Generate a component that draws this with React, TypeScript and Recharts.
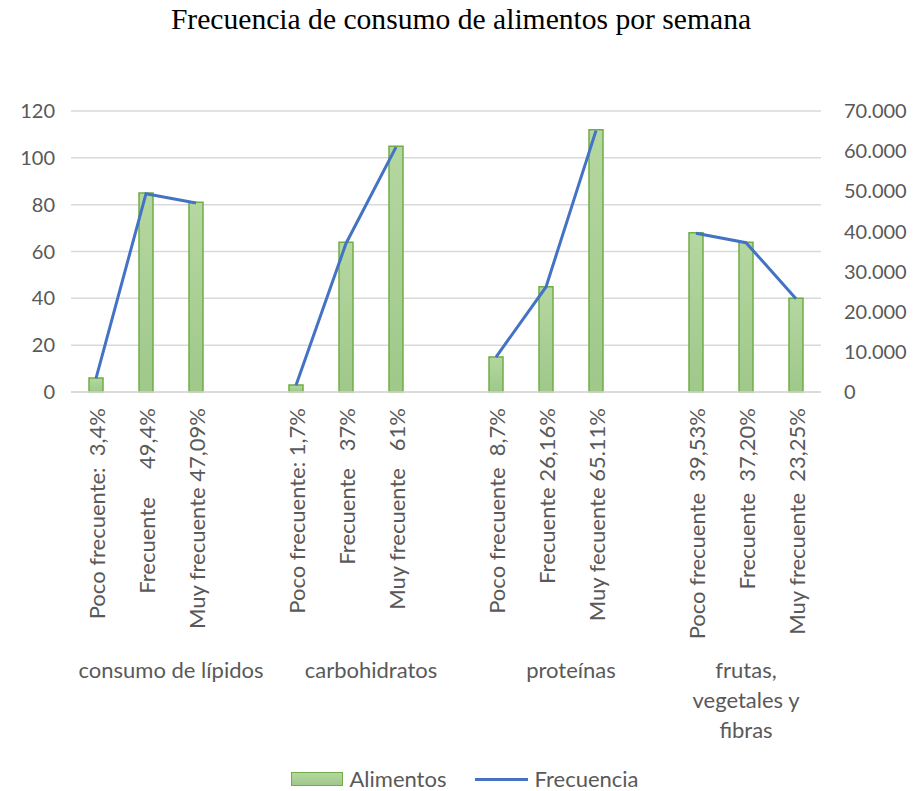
import { ComposedChart, Bar, Line, XAxis, YAxis, CartesianGrid, Legend } from "recharts";

// categorías del eje (las vacías separan los grupos)
const categorias = [
  "Poco frecuente:  3,4%",
  "Frecuente     49,4%",
  "Muy frecuente 47,09%",
  "",
  "Poco frecuente: 1,7%",
  "Frecuente   37%",
  "Muy frecuente   61%",
  "",
  "Poco frecuente  8,7%",
  "Frecuente 26,16%",
  "Muy fecuente 65.11%",
  "",
  "Poco frecuente  39,53%",
  "Frecuente  37,20%",
  "Muy frecuente  23,25%",
];
const grupoDeCategoria = [0, 0, 0, 0, 1, 1, 1, 1, 2, 2, 2, 2, 3, 3, 3];
const grupos = ["consumo de lípidos", "carbohidratos", "proteínas", "frutas, vegetales y fibras"];

const alimentos = [6, 85, 81, null, 3, 64, 105, null, 15, 45, 112, null, 68, 64, 40];
const frecuencia = [3400, 49400, 47090, null, 1700, 37000, 61000, null, 8700, 26160, 65110, null, 39530, 37200, 23250];

const ticksIzq = [0, 20, 40, 60, 80, 100, 120];
const ticksDer = [0, 10000, 20000, 30000, 40000, 50000, 60000, 70000];

const data = categorias.map((categoria, i) => ({
  categoria,
  grupo: grupoDeCategoria[i],
  alimentos: alimentos[i],
  frecuencia: frecuencia[i],
}));

const W = 914;
const H = 791;
const LEFT = 71;
const RIGHT_W = 93;
const SLOT = (W - LEFT - RIGHT_W) / categorias.length;

const FONT = "Lato, 'Open Sans', sans-serif";
const GRIS = "#595959";
const VERDE = "#70ad47";
const AZUL = "#4472c4";

const miles = (v: number) => String(v).replace(/\B(?=(\d{3})+(?!\d))/g, ".");

// corta el texto en líneas según un ancho aproximado
function partir(texto: string, ancho: number) {
  const palabras = texto.split(" ");
  const lineas: string[] = [];
  let actual = "";
  palabras.forEach((p) => {
    const prueba = actual ? actual + " " + p : p;
    if (prueba.length * 10 > ancho && actual) {
      lineas.push(actual);
      actual = p;
    } else {
      actual = prueba;
    }
  });
  if (actual) lineas.push(actual);
  return lineas;
}

const CategoriaTick = (props: any) => {
  const { x, y, payload } = props;
  const index = payload.index;
  const g = grupoDeCategoria[index];
  const esPrimero = index === 0 || grupoDeCategoria[index - 1] !== g;
  let grupoLabel = null;
  if (esPrimero) {
    const n = grupoDeCategoria.filter((v) => v === g).length;
    const cx = x - SLOT / 2 + (n * SLOT) / 2;
    const lineas = partir(grupos[g], n * SLOT - 20);
    grupoLabel = (
      <text x={cx} y={y + 278} textAnchor="middle" fill={GRIS} fontSize={22} fontFamily={FONT}>
        {lineas.map((l, i) => (
          <tspan key={i} x={cx} dy={i === 0 ? 0 : 30}>
            {l}
          </tspan>
        ))}
      </text>
    );
  }
  return (
    <g>
      <text
        transform={`translate(${x},${y + 8}) rotate(-90)`}
        textAnchor="end"
        dominantBaseline="central"
        fill={GRIS}
        fontSize={22}
        fontFamily={FONT}
        style={{ whiteSpace: "pre" }}
      >
        {payload.value}
      </text>
      {grupoLabel}
    </g>
  );
};

const Leyenda = () => (
  <div
    style={{
      height: 40,
      display: "flex",
      justifyContent: "center",
      alignItems: "center",
      paddingTop: 16,
      paddingLeft: 16,
      boxSizing: "border-box",
      fontFamily: FONT,
      fontSize: 22,
      lineHeight: "22px",
      color: GRIS,
    }}
  >
    <span
      style={{
        display: "inline-block",
        width: 52,
        height: 14,
        boxSizing: "border-box",
        border: `1.5px solid ${VERDE}`,
        background: "linear-gradient(#b5d7a1, #9fc88a)",
        marginRight: 6,
      }}
    />
    <span style={{ marginRight: 29 }}>Alimentos</span>
    <span style={{ display: "inline-block", width: 53, height: 3, background: AZUL, marginRight: 6 }} />
    <span>Frecuencia</span>
  </div>
);

export default function App() {
  return (
    <div style={{ position: "absolute", left: 0, top: 0, width: W, height: H, background: "#fff" }}>
      <div
        style={{
          position: "absolute",
          left: 4,
          top: 3,
          width: W,
          textAlign: "center",
          fontFamily: "'Liberation Serif', 'Times New Roman', serif",
          fontSize: 29.6,
          color: "#000",
        }}
      >
        Frecuencia de consumo de alimentos por semana
      </div>
      <ComposedChart width={W} height={H} data={data} margin={{ top: 111, right: 0, bottom: 0, left: 0 }}>
        <defs>
          <linearGradient id="verdeBarra" x1="0" y1="0" x2="0" y2="1">
            <stop offset="0%" stopColor="#b5d7a1" />
            <stop offset="100%" stopColor="#9fc88a" />
          </linearGradient>
        </defs>
        <CartesianGrid yAxisId="izq" vertical={false} stroke="#d9d9d9" strokeWidth={1.5} />
        <XAxis
          dataKey="categoria"
          interval={0}
          height={359}
          tickLine={false}
          axisLine={{ stroke: "#d9d9d9", strokeWidth: 1.5 }}
          tick={<CategoriaTick />}
        />
        <YAxis
          yAxisId="izq"
          orientation="left"
          width={LEFT}
          domain={[0, 120]}
          ticks={ticksIzq}
          axisLine={false}
          tickLine={false}
          tickMargin={10}
          tick={{ fill: GRIS, fontSize: 20, fontFamily: FONT }}
        />
        <YAxis
          yAxisId="der"
          orientation="right"
          width={RIGHT_W}
          domain={[0, 70000]}
          ticks={ticksDer}
          axisLine={false}
          tickLine={false}
          tickMargin={17}
          tickFormatter={miles}
          tick={{ fill: GRIS, fontSize: 20, fontFamily: FONT }}
        />
        <Bar
          yAxisId="izq"
          dataKey="alimentos"
          name="Alimentos"
          fill="url(#verdeBarra)"
          stroke={VERDE}
          strokeWidth={1.5}
          barSize={14}
          isAnimationActive={false}
        />
        <Line
          yAxisId="der"
          dataKey="frecuencia"
          name="Frecuencia"
          stroke={AZUL}
          strokeWidth={3}
          dot={false}
          activeDot={false}
          type="linear"
          isAnimationActive={false}
        />
        <Legend verticalAlign="bottom" content={<Leyenda />} />
      </ComposedChart>
    </div>
  );
}
